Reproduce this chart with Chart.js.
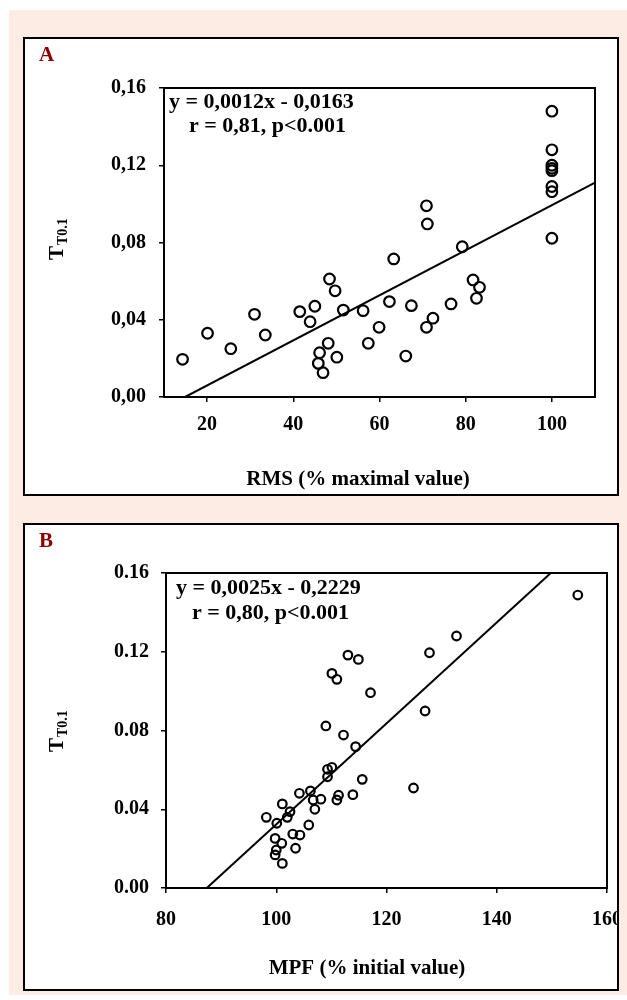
<!DOCTYPE html>
<html>
<head>
<meta charset="utf-8">
<script src="https://cdn.jsdelivr.net/npm/chart.js@4.4.0/dist/chart.umd.min.js"></script>
<style>
  html, body { margin: 0; padding: 0; background: #fff; }
  body { width: 627px; height: 1000px; position: relative; overflow: hidden; }
  #bg { position: absolute; left: 9px; top: 10px; width: 618px; height: 985px; background: #fdece3; }
  .panel { position: absolute; left: 23px; width: 596px; box-sizing: border-box; border: 2px solid #000; background: #fff; overflow: hidden; }
  #panelA { top: 37px; height: 459px; }
  #panelB { top: 523px; height: 468px; }
  .panel canvas { position: absolute; left: 0; top: 0; }
</style>
</head>
<body>
<div id="bg"></div>
<div class="panel" id="panelA"><canvas id="chartA" width="592" height="455"></canvas></div>
<div class="panel" id="panelB"><canvas id="chartB" width="592" height="464"></canvas></div>

<script>
// --- DATA ---
// Panel A: RMS (% maximal value) vs T T0.1
const rmsA = [14.3, 20.1, 25.5, 31.0, 33.5, 41.5, 43.9, 45.0, 46.1, 48.1, 45.8, 46.9, 50.1, 48.4,
  49.7, 51.6, 56.2, 57.4, 59.9, 62.3, 63.3, 66.1, 67.4, 70.9, 71.1, 70.9, 72.4, 76.6, 79.2, 81.7,
  83.2, 82.5, 100, 100, 100, 100, 100, 100, 100, 100];
const tA = [0.0195, 0.033, 0.025, 0.0428, 0.0321, 0.0442, 0.039, 0.047, 0.0229, 0.0278, 0.0174, 0.0126, 0.0206, 0.0611,
  0.055, 0.045, 0.0447, 0.0278, 0.0361, 0.0494, 0.0715, 0.0212, 0.0473, 0.099, 0.0896, 0.0361, 0.0408, 0.0482, 0.0778, 0.0606,
  0.0568, 0.0511, 0.148, 0.128, 0.120, 0.1184, 0.1172, 0.109, 0.1063, 0.0822];
const fitAx = [14.9, 110];
const fitAy = [0, 0.111];

// Panel B: MPF (% initial value) vs T T0.1
const mpfB = [98.2, 100.1, 101.1, 102.0, 102.5, 99.8, 101.0, 100.0, 99.8, 101.1, 103.0, 104.3, 103.5,
  104.2, 105.9, 106.2, 106.7, 107.0, 108.1, 109.0, 109.3, 110.1, 109.3, 110.1, 111.0, 111.0, 111.3,
  112.2, 113.0, 114.9, 114.4, 113.9, 115.6, 117.1, 124.9, 127.0, 127.8, 132.7, 154.7];
const tB = [0.0359, 0.0329, 0.0427, 0.0359, 0.0388, 0.0252, 0.0227, 0.0193, 0.0168, 0.0125, 0.0274, 0.0269, 0.0202,
  0.0481, 0.032, 0.0493, 0.0447, 0.040, 0.0451, 0.0823, 0.0603, 0.0613, 0.0565, 0.109, 0.106, 0.0447, 0.0471,
  0.0777, 0.1183, 0.1161, 0.0718, 0.0474, 0.0552, 0.0992, 0.0508, 0.0899, 0.1195, 0.128, 0.1488];
const fitBx = [87.4, 149.8];
const fitBy = [0, 0.16];

// Ticks
const yTicks = [0, 0.04, 0.08, 0.12, 0.16];
const yLabelsA = ['0,00', '0,04', '0,08', '0,12', '0,16'];
const yLabelsB = ['0.00', '0.04', '0.08', '0.12', '0.16'];
const xTicksA = [20, 40, 60, 80, 100];
const xTicksB = [80, 100, 120, 140, 160];

const SERIF = '"Liberation Serif", "Times New Roman", serif';
Chart.defaults.font.family = SERIF;
Chart.defaults.color = '#000';

// frame, panel letter, equation and axis titles
const panelDecor = {
  id: 'panelDecor',
  afterDraw(chart, args, o) {
    const ctx = chart.ctx;
    const a = chart.chartArea;
    ctx.save();
    // plot frame
    ctx.strokeStyle = '#000';
    ctx.lineWidth = 2;
    ctx.strokeRect(a.left, a.top, a.right - a.left, a.bottom - a.top);

    ctx.textBaseline = 'alphabetic';
    ctx.font = 'bold 21px ' + SERIF;
    ctx.fillStyle = '#8b0000';
    ctx.fillText(o.letter, 14, o.letterY);

    ctx.fillStyle = '#000';
    ctx.font = 'bold 22px ' + SERIF;
    ctx.fillText(o.eq, a.left + o.eqDx, a.top + o.eqDy);
    ctx.fillText(o.stat, a.left + o.statDx, a.top + o.statDy);

    ctx.textAlign = 'center';
    ctx.font = 'bold 21px ' + SERIF;
    ctx.fillText(o.xTitle, o.xTitleX, o.xTitleY);

    // rotated y title: T with subscript T0.1
    ctx.translate(o.yTitleX, o.yTitleY);
    ctx.rotate(-Math.PI / 2);
    ctx.textAlign = 'left';
    ctx.fillText('T', 0, 0);
    const w = ctx.measureText('T').width;
    ctx.font = 'bold 14px ' + SERIF;
    ctx.fillText('T0.1', w + 1, 4);
    ctx.restore();
  }
};

function makeChart(id, p) {
  const tickFont = { size: 20, weight: 'bold', family: SERIF };
  return new Chart(document.getElementById(id), {
    type: 'scatter',
    data: {
      datasets: [
        {
          data: p.xs.map((x, i) => ({ x: x, y: p.ys[i] })),
          pointStyle: 'circle',
          pointRadius: p.r,
          pointBorderWidth: 2.2,
          pointBorderColor: '#000',
          pointBackgroundColor: 'rgba(0,0,0,0)',
          showLine: false
        },
        {
          data: p.fitX.map((x, i) => ({ x: x, y: p.fitY[i] })),
          showLine: true,
          pointRadius: 0,
          borderColor: '#000',
          borderWidth: 2
        }
      ]
    },
    options: {
      responsive: false,
      animation: false,
      layout: { padding: { left: 0, top: p.top, right: p.right, bottom: 0 } },
      plugins: {
        legend: { display: false },
        tooltip: { enabled: false },
        panelDecor: p.decor
      },
      scales: {
        x: {
          type: 'linear', min: p.xMin, max: p.xMax,
          afterBuildTicks: s => { s.ticks = p.xTicks.map(v => ({ value: v })); },
          afterFit: s => { s.height = p.xHeight; s.paddingLeft = 0; s.paddingRight = 0; },
          grid: { drawOnChartArea: false, tickLength: 5, color: '#000', lineWidth: 1.5 },
          border: { display: false },
          ticks: { padding: p.xPad, font: tickFont, maxRotation: 0, autoSkip: false, callback: v => String(v) }
        },
        y: {
          type: 'linear', min: 0, max: 0.16,
          afterBuildTicks: s => { s.ticks = yTicks.map(v => ({ value: v })); },
          afterFit: s => { s.width = p.yWidth; s.paddingTop = 0; s.paddingBottom = 0; },
          grid: { drawOnChartArea: false, tickLength: 5, color: '#000', lineWidth: 1.5 },
          border: { display: false },
          ticks: { padding: p.yPad, font: tickFont, autoSkip: false, callback: (v, i) => p.yLabels[i] }
        }
      }
    },
    plugins: [panelDecor]
  });
}

makeChart('chartA', {
  xs: rmsA, ys: tA, fitX: fitAx, fitY: fitAy, r: 5.3,
  xMin: 10, xMax: 110, xTicks: xTicksA, yLabels: yLabelsA,
  top: 49, right: 22, yWidth: 139, xHeight: 97, xPad: 11, yPad: 13,
  decor: {
    letter: 'A', letterY: 22,
    eq: 'y = 0,0012x - 0,0163', eqDx: 5, eqDy: 20,
    stat: 'r = 0,81, p<0.001', statDx: 25, statDy: 44,
    xTitle: 'RMS (% maximal value)', xTitleX: 333, xTitleY: 446,
    yTitleX: 38, yTitleY: 221
  }
});

makeChart('chartB', {
  xs: mpfB, ys: tB, fitX: fitBx, fitY: fitBy, r: 4.3,
  xMin: 80, xMax: 160, xTicks: xTicksB, yLabels: yLabelsB,
  top: 48, right: 10, yWidth: 141, xHeight: 101, xPad: 15, yPad: 12,
  decor: {
    letter: 'B', letterY: 22,
    eq: 'y = 0,0025x - 0,2229', eqDx: 10, eqDy: 21,
    stat: 'r = 0,80, p<0.001', statDx: 26, statDy: 46,
    xTitle: 'MPF (% initial value)', xTitleX: 342, xTitleY: 449,
    yTitleX: 38, yTitleY: 227
  }
});
</script>
</body>
</html>
